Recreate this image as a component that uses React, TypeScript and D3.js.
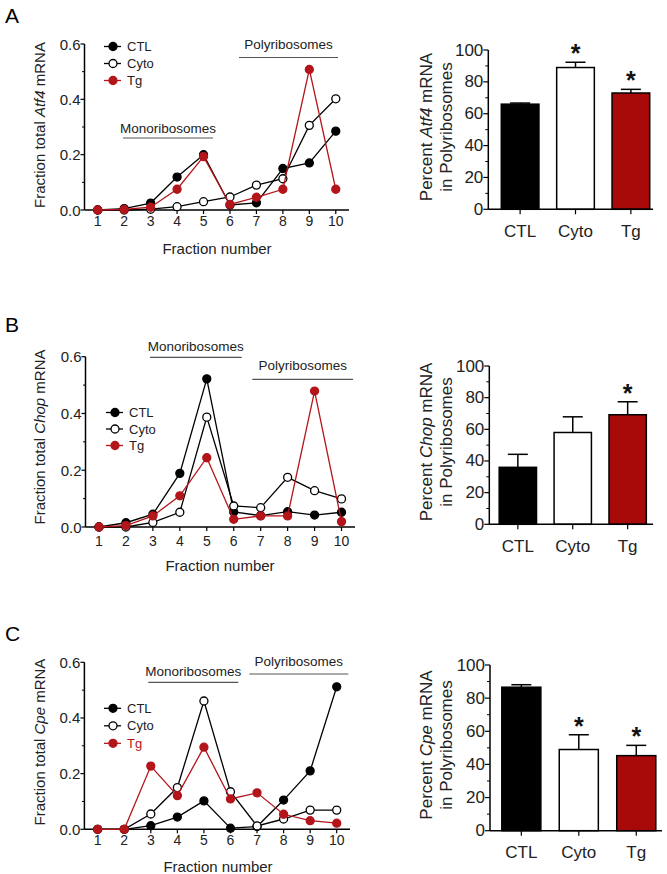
import * as d3 from 'd3'

const FONT = 'Liberation Sans, Arial, Helvetica, sans-serif'
const LINE_RED = '#b3151b'
const BAR_RED = '#a80a0a'

const fractions = [1, 2, 3, 4, 5, 6, 7, 8, 9, 10]
const groups = ['CTL', 'Cyto', 'Tg']
const fracTicks = [0, 0.2, 0.4, 0.6]
const fracMinor = [0.1, 0.3, 0.5]
const pctTicks = [0, 20, 40, 60, 80, 100]
const pctMinor = [10, 30, 50, 70, 90]

// A - Atf4
const atf4Ctl = [0, 0.005, 0.025, 0.119, 0.2, 0.018, 0.026, 0.15, 0.17, 0.285]
const atf4Cyto = [0, 0, 0.003, 0.012, 0.03, 0.047, 0.09, 0.113, 0.306, 0.402]
const atf4Tg = [0, 0.002, 0.01, 0.075, 0.193, 0.02, 0.046, 0.075, 0.508, 0.075]
const atf4Pct = [66, 89, 73]
const atf4Err = [0.7, 3.3, 2.3]
const atf4Sig = [false, true, true]

// B - Chop
const chopCtl = [0, 0.015, 0.045, 0.189, 0.522, 0.053, 0.04, 0.054, 0.042, 0.052]
const chopCyto = [0, 0, 0.016, 0.052, 0.387, 0.074, 0.068, 0.175, 0.128, 0.099]
const chopTg = [0, 0.005, 0.039, 0.11, 0.244, 0.027, 0.039, 0.039, 0.479, 0.019]
const chopPct = [36, 58, 69.2]
const chopErr = [8.2, 9.9, 8.2]
const chopSig = [false, false, true]

// C - Cpe
const cpeCtl = [0, 0, 0.013, 0.044, 0.102, 0.004, 0.01, 0.105, 0.21, 0.512]
const cpeCyto = [0, 0, 0.055, 0.15, 0.461, 0.135, 0.012, 0.037, 0.069, 0.069]
const cpeTg = [0, 0, 0.227, 0.121, 0.295, 0.109, 0.131, 0.054, 0.031, 0.022]
const cpePct = [86.6, 49, 45.3]
const cpeErr = [1.5, 8.9, 6.2]
const cpeSig = [false, true, true]

const GeneTitle = (props: { pre: string; gene: string; post: string }) => (
  <>
    {props.pre}
    <tspan fontStyle="italic">{props.gene}</tspan>
    {props.post}
  </>
)

function LinePanel(p: any) {
  const x = d3.scaleLinear().domain([0.5, 10.5]).range([p.x0, p.x1])
  const y = d3.scaleLinear().domain([0, 0.6]).range([p.yb, p.yt])
  const line = d3.line<number>().x((d, i) => x(fractions[i])).y(d => y(d))
  const series = [
    { name: 'CTL', vals: p.ctl, stroke: '#000', fill: '#000', color: '#111' },
    { name: 'Cyto', vals: p.cyto, stroke: '#000', fill: '#fff', color: '#111' },
    { name: 'Tg', vals: p.tg, stroke: LINE_RED, fill: LINE_RED, color: LINE_RED },
  ]
  return (
    <g fontFamily={FONT}>
      <text x={5} y={p.letterY} fontSize={21}>{p.letter}</text>
      {/* axes */}
      <line x1={p.x0} x2={p.x0} y1={p.yb} y2={p.yt} stroke="#000" strokeWidth={1.5} />
      <line x1={p.x0} x2={p.x1} y1={p.yb} y2={p.yb} stroke="#000" strokeWidth={1.5} />
      {fracTicks.map(t => (
        <g key={t}>
          <line x1={p.x0 - 4} x2={p.x0} y1={y(t)} y2={y(t)} stroke="#000" strokeWidth={1.2} />
          <text x={p.x0 - 4} y={y(t)} fontSize={15} textAnchor="end" dominantBaseline="central" fill="#222">{t.toFixed(1)}</text>
        </g>
      ))}
      {fracMinor.map(t => (
        <line key={t} x1={p.x0 - 2.5} x2={p.x0} y1={y(t)} y2={y(t)} stroke="#000" strokeWidth={1} />
      ))}
      {fractions.map(f => (
        <g key={f}>
          <line x1={x(f)} x2={x(f)} y1={p.yb} y2={p.yb + 4} stroke="#000" strokeWidth={1.2} />
          <text x={x(f)} y={p.tickY} fontSize={14} textAnchor="middle" dominantBaseline="central" fill="#222">{f}</text>
        </g>
      ))}
      <text x={p.xTitleX} y={p.xTitleY} fontSize={15} textAnchor="middle" dominantBaseline="central" fill="#222">Fraction number</text>
      <text transform={`translate(39,${p.yTitleY}) rotate(-90)`} fontSize={15} textAnchor="middle" dominantBaseline="central" fill="#222">
        <GeneTitle pre="Fraction total " gene={p.gene} post=" mRNA" />
      </text>
      {/* region annotations */}
      <text x={(p.mono[0] + p.mono[1]) / 2} y={p.mono[3]} fontSize={13.5} textAnchor="middle" dominantBaseline="central" fill="#222">Monoribosomes</text>
      <line x1={p.mono[0]} x2={p.mono[1]} y1={p.mono[2]} y2={p.mono[2]} stroke="#555" strokeWidth={1.2} />
      <text x={(p.poly[0] + p.poly[1]) / 2} y={p.poly[3]} fontSize={13.5} textAnchor="middle" dominantBaseline="central" fill="#222">Polyribosomes</text>
      <line x1={p.poly[0]} x2={p.poly[1]} y1={p.poly[2]} y2={p.poly[2]} stroke="#555" strokeWidth={1.2} />
      {/* data */}
      {series.map(s => (
        <g key={s.name}>
          <path d={line(s.vals) || ''} fill="none" stroke={s.stroke} strokeWidth={1.3} />
          {s.vals.map((v: number, i: number) => (
            <circle key={i} cx={x(fractions[i])} cy={y(v)} r={4} fill={s.fill} stroke={s.stroke} strokeWidth={1.3} />
          ))}
        </g>
      ))}
      {/* legend */}
      {series.map((s, i) => (
        <g key={s.name} transform={`translate(${p.legX},${p.legY + i * p.legDy})`}>
          <line x1={-7} x2={10} y1={0} y2={0} stroke={s.stroke} strokeWidth={1.3} />
          <circle cx={2} cy={0} r={4} fill={s.fill} stroke={s.stroke} strokeWidth={1.3} />
          <text x={16} y={0} fontSize={13} dominantBaseline="central" fill={s.name === 'Tg' && p.tgRed ? LINE_RED : '#222'}>{s.name}</text>
        </g>
      ))}
    </g>
  )
}

function BarPanel(p: any) {
  const x = d3.scaleBand().domain(groups).range(p.band).paddingInner(0.32).paddingOuter(0.24)
  const y = d3.scaleLinear().domain([0, 100]).range([p.yb, p.yt])
  const fills = ['#000', '#fff', BAR_RED]
  const bw = x.bandwidth()
  return (
    <g fontFamily={FONT}>
      {groups.map((g, i) => {
        const bx = x(g) as number
        const cx = bx + bw / 2
        const top = y(p.vals[i])
        const cap = y(p.vals[i] + p.err[i])
        return (
          <g key={g}>
            <line x1={cx} x2={cx} y1={top} y2={cap} stroke="#000" strokeWidth={1.5} />
            <line x1={cx - 10} x2={cx + 10} y1={cap} y2={cap} stroke="#000" strokeWidth={1.5} />
            <rect x={bx} y={top} width={bw} height={p.yb - top} fill={fills[i]} stroke="#000" strokeWidth={1.5} />
            <line x1={cx} x2={cx} y1={p.yb} y2={p.yb + 5} stroke="#000" strokeWidth={1.2} />
            <text x={cx} y={p.yb + 22} fontSize={17} textAnchor="middle" dominantBaseline="central" fill="#222">{g}</text>
            {p.sig[i] && (
              <text x={cx} y={cap - 14 + 14} fontSize={25} fontWeight="bold" textAnchor="middle" fill="#111">*</text>
            )}
          </g>
        )
      })}
      <line x1={p.x0} x2={p.x0} y1={p.yb} y2={p.yt} stroke="#000" strokeWidth={1.5} />
      <line x1={p.x0} x2={p.x1} y1={p.yb} y2={p.yb} stroke="#000" strokeWidth={1.5} />
      {pctTicks.map(t => (
        <g key={t}>
          <line x1={p.x0 - 5} x2={p.x0} y1={y(t)} y2={y(t)} stroke="#000" strokeWidth={1.2} />
          <text x={p.x0 - 5} y={y(t)} fontSize={17} textAnchor="end" dominantBaseline="central" fill="#222">{t}</text>
        </g>
      ))}
      {pctMinor.map(t => (
        <line key={t} x1={p.x0 - 3} x2={p.x0} y1={y(t)} y2={y(t)} stroke="#000" strokeWidth={1} />
      ))}
      <text transform={`translate(426,${p.titleY}) rotate(-90)`} fontSize={17} textAnchor="middle" dominantBaseline="central" fill="#222">
        <GeneTitle pre="Percent " gene={p.gene} post=" mRNA" />
      </text>
      <text transform={`translate(446,${p.titleY}) rotate(-90)`} fontSize={17} textAnchor="middle" dominantBaseline="central" fill="#222">in Polyribosomes</text>
    </g>
  )
}

export default function App() {
  return (
    <div style={{ position: 'absolute', left: 0, top: 0, background: '#fff' }}>
      <svg width={667} height={874} viewBox="0 0 667 874">
        <rect width={667} height={874} fill="#fff" />
        <LinePanel letter="A" letterY={23} gene="Atf4" ctl={atf4Ctl} cyto={atf4Cyto} tg={atf4Tg}
          x0={84.5} x1={349} yb={210} yt={44} tickY={220.5} xTitleX={217} xTitleY={248} yTitleY={125}
          mono={[123, 213, 138, 128]} poly={[239, 338, 57.5, 44]}
          legX={111} legY={46.5} legDy={17} tgRed={false} />
        <BarPanel gene="Atf4" vals={atf4Pct} err={atf4Err} sig={atf4Sig}
          band={[488, 663]} x0={488.3} x1={653} yb={209.3} yt={50} titleY={127} />
        <LinePanel letter="B" letterY={331.5} gene="Chop" ctl={chopCtl} cyto={chopCyto} tg={chopTg}
          x0={85.5} x1={355} yb={527} yt={356.7} tickY={541} xTitleX={220} xTitleY={565} yTitleY={437}
          mono={[150, 241.7, 357.3, 346]} poly={[252.3, 353, 379.3, 365]}
          legX={113} legY={412.5} legDy={16.5} tgRed={false} />
        <BarPanel gene="Chop" vals={chopPct} err={chopErr} sig={chopSig}
          band={[486, 659.5]} x0={489.3} x1={653} yb={524.3} yt={366} titleY={442} />
        <LinePanel letter="C" letterY={641} gene="Cpe" ctl={cpeCtl} cyto={cpeCyto} tg={cpeTg}
          x0={84.4} x1={350} yb={829.3} yt={662.3} tickY={840} xTitleX={218} xTitleY={866.5} yTitleY={742}
          mono={[148.3, 238.3, 682.3, 671.7]} poly={[249.3, 348.3, 674, 661]}
          legX={111} legY={708.3} legDy={17.5} tgRed={true} />
        <BarPanel gene="Cpe" vals={cpePct} err={cpeErr} sig={cpeSig}
          band={[488, 669.6]} x0={490} x1={662} yb={830.7} yt={665} titleY={745} />
      </svg>
    </div>
  )
}
